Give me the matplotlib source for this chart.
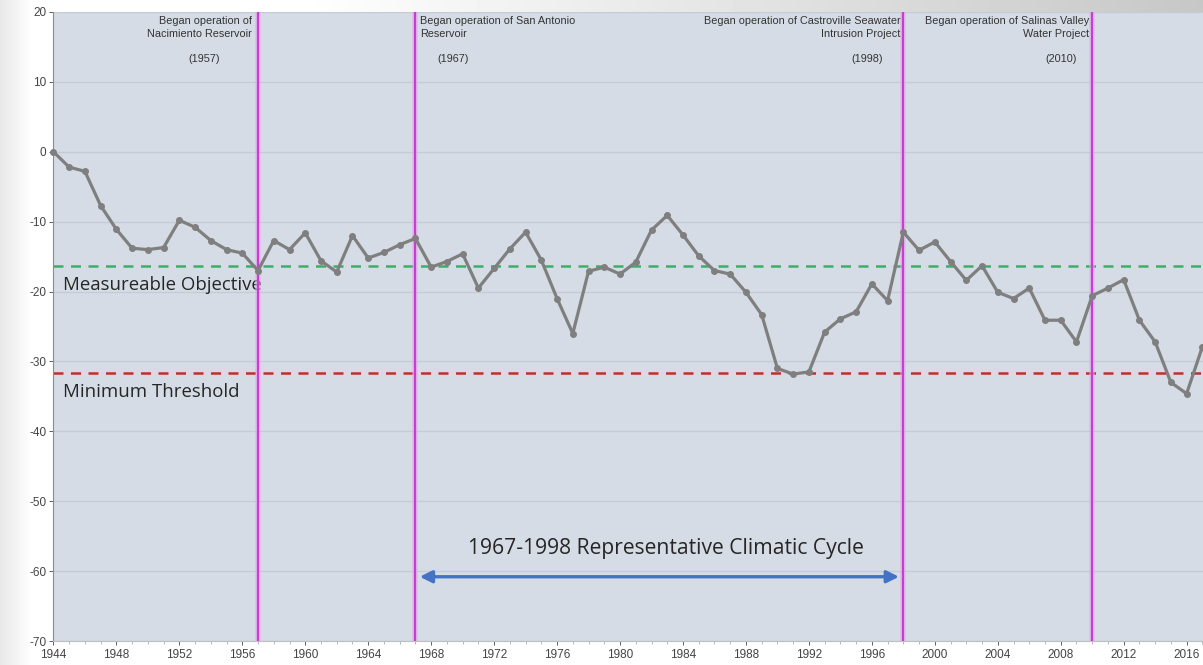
import numpy as np
import matplotlib.pyplot as plt
from matplotlib.patches import FancyArrowPatch

plt.rcParams['axes.unicode_minus'] = False

# données (niveau de nappe, pieds)
years = list(range(1944, 2018))
level = [0.0, -2.2, -2.8, -7.7, -11.1, -13.8, -14.0, -13.7, -9.8, -10.8,
         -12.7, -14.0, -14.5, -17.0, -12.7, -14.0, -11.6, -15.6, -17.2, -12.0,
         -15.2, -14.4, -13.3, -12.4, -16.5, -15.7, -14.6, -19.5, -16.7, -13.9,
         -11.5, -15.5, -21.0, -26.0, -17.1, -16.5, -17.5, -15.8, -11.2, -9.1,
         -11.9, -14.9, -17.0, -17.5, -20.1, -23.3, -31.0, -31.8, -31.5, -25.8,
         -23.9, -22.9, -18.9, -21.3, -11.5, -14.1, -12.9, -15.7, -18.4, -16.3,
         -20.1, -21.0, -19.5, -24.1, -24.1, -27.2, -20.6, -19.5, -18.3, -24.1,
         -27.2, -33.0, -34.6, -27.9]

objective = -16.3
threshold = -31.6

event_years = [1957, 1967, 1998, 2010]
event_texts = ["Began operation of\nNacimiento Reservoir",
               "Began operation of San Antonio\nReservoir",
               "Began operation of Castroville Seawater\nIntrusion Project",
               "Began operation of Salinas Valley\nWater Project"]
event_labels = ["(1957)", "(1967)", "(1998)", "(2010)"]

cycle_start, cycle_end = 1967, 1998

fig = plt.figure(figsize=(12.03, 6.65), dpi=100)
fig.patch.set_facecolor('white')

# fond type diapo (degrade gris en haut et a gauche)
bg = fig.add_axes([0, 0, 1, 1])
bg.set_axis_off()
H, W = 665, 1203
xx = np.linspace(0, 1, W)[None, :]
yy = np.arange(H)[:, None]
img = np.ones((H, W))
top = np.clip((xx - 0.25) / 0.75, 0, 1) * 0.22 * (yy < 13)
left = np.clip(1 - np.arange(W)[None, :] / 32, 0, 1) * 0.09
img = img - np.maximum(top, left)
bg.imshow(img, cmap='gray', vmin=0, vmax=1, aspect='auto', extent=[0, 1, 0, 1])
bg.set_xlim(0, 1)
bg.set_ylim(0, 1)

ax = fig.add_axes([0.0444, 0.036, 0.9556, 0.946])
ax.set_facecolor('#d6dce5')

ax.set_xlim(1944, 2017.04)
ax.set_ylim(-70, 20)

ax.set_yticks(np.arange(-70, 21, 10))
ax.set_xticks(np.arange(1944, 2017, 4))
ax.set_xticks(np.arange(1944, 2018, 1), minor=True)
ax.grid(axis='y', color='#c5cbd5', lw=0.9)
ax.set_axisbelow(True)
ax.tick_params(axis='both', labelsize=8.5, colors='#444444', length=3, width=0.6)
ax.tick_params(axis='x', which='minor', length=2, width=0.5, color='#9a9a9a')
ax.tick_params(axis='x', pad=3)
ax.tick_params(axis='y', pad=2)
for lab in ax.get_xticklabels() + ax.get_yticklabels():
    lab.set_family('Liberation Sans')
for s in ['top', 'right']:
    ax.spines[s].set_visible(False)
ax.spines['left'].set_color('#8c8c8c')
ax.spines['bottom'].set_color('#bfbfbf')

# lignes objectif / seuil
ax.axhline(objective, color='#3dae6a', ls=(0, (4, 3)), lw=1.8, zorder=2)
ax.axhline(threshold, color='#c0302b', ls=(0, (4, 3)), lw=1.8, zorder=2)
ax.text(1944.6, -19.0, "Measureable Objective", fontsize=13.4,
        family='Open Sans', color='#262626', va='center', ha='left')
ax.text(1944.6, -34.3, "Minimum Threshold", fontsize=13.4,
        family='Open Sans', color='#262626', va='center', ha='left')

# lignes verticales des projets
for yr in event_years:
    ax.axvline(yr, color='#e8a8ec', lw=4, zorder=3, alpha=0.6)
    ax.axvline(yr, color='#c63fd0', lw=1.6, zorder=3)

tk = dict(fontsize=7.8, family='Liberation Sans', color='#333333', va='top')
ax.text(1956.6, 19.4, event_texts[0], ha='right', multialignment='right', linespacing=1.3, **tk)
ax.text(1953.6, 14.0, event_labels[0], ha='center', **tk)
ax.text(1967.3, 19.4, event_texts[1], ha='left', linespacing=1.3, **tk)
ax.text(1969.4, 14.0, event_labels[1], ha='center', **tk)
ax.text(1997.8, 19.4, event_texts[2], ha='right', multialignment='right', linespacing=1.3, **tk)
ax.text(1995.7, 14.0, event_labels[2], ha='center', **tk)
ax.text(2009.8, 19.4, event_texts[3], ha='right', multialignment='right', linespacing=1.3, **tk)
ax.text(2008.0, 14.0, event_labels[3], ha='center', **tk)

# série
ax.plot(years, level, color='#7f7f7f', lw=2.3, marker='o', ms=4, zorder=4,
        clip_on=False)

# cycle climatique
arrow = FancyArrowPatch((cycle_start + 0.1, -60.8), (cycle_end - 0.1, -60.8),
                        arrowstyle='<|-|>', mutation_scale=18, color='#4472c4',
                        lw=2.4, zorder=5)
ax.add_patch(arrow)
ax.text((cycle_start + cycle_end) / 2 + 0.4, -56.7,
        f"{cycle_start}-{cycle_end} Representative Climatic Cycle",
        fontsize=15.2, family='Open Sans', color='#262626', ha='center', va='center')

fig.savefig('out.png', dpi=100, facecolor=fig.get_facecolor())
